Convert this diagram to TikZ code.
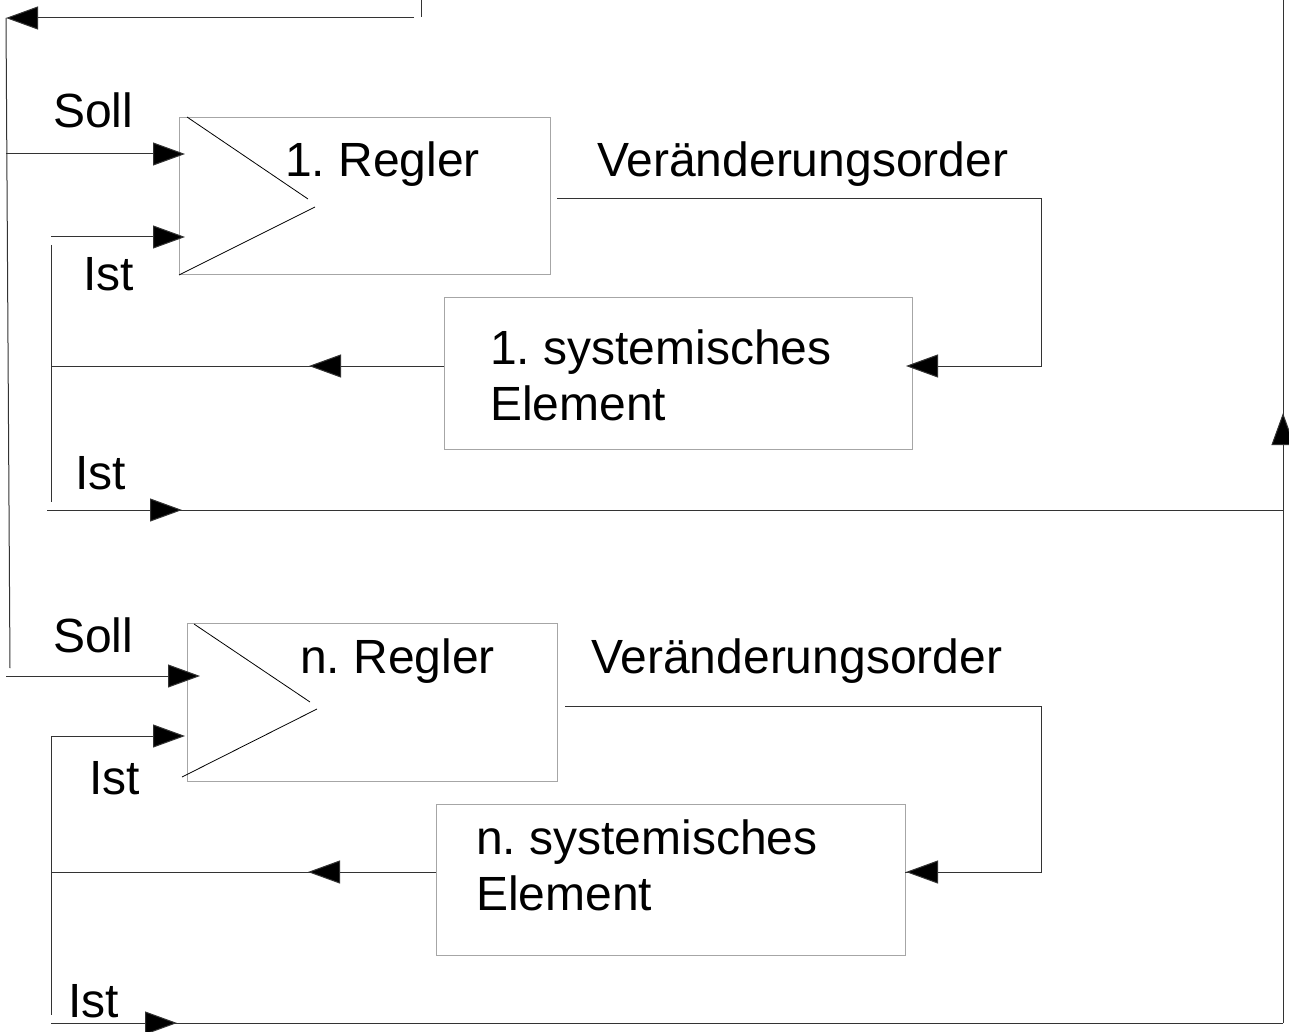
\documentclass[tikz,border=0pt]{standalone}
\usepackage{fontspec}
\setmainfont{Liberation Sans}
\usetikzlibrary{arrows.meta}
\frenchspacing
\begin{document}
\begin{tikzpicture}[x=1pt,y=-1pt,
  box/.style={draw=gray!70,line width=1pt,inner sep=0pt,anchor=north west},
  wire/.style={draw=black!80,line width=1pt},
  tri/.style={draw=black,line width=0.8pt},
  arr/.style={-{Triangle[length=32pt,width=23pt,fill=black]},draw=black!80,line width=1pt},
  lbl/.style={anchor=base west,inner sep=0pt,font=\fontsize{48}{56}\selectfont,align=left}]
\useasboundingbox (0,0) rectangle (1289,1032);
% boxes
\node[box,minimum width=371pt,minimum height=157pt] (r1) at (179,117) {};
\node[box,minimum width=468pt,minimum height=152pt] (s1) at (444,297) {};
\node[box,minimum width=370pt,minimum height=158pt] (r2) at (187,623) {};
\node[box,minimum width=469pt,minimum height=151pt] (s2) at (436,804) {};
% triangles
\draw[tri] (187,117) -- (308,199);
\draw[tri] (315,207) -- (179,275);
\draw[tri] (194,624) -- (310,702);
\draw[tri] (317,709) -- (182,777);
% labels
\node[lbl] (soll1) at (53,128) {Soll};
\node[lbl] (reg1) at (285,177) {1. Regler};
\node[lbl] (ver1) at (597,177) {Veränderungsorder};
\node[lbl] (ist1) at (83,290) {Ist};
\node[lbl] (sys1) at (490,420) {1. systemisches\\Element};
\node[lbl] (ist2) at (75,489) {Ist};
\node[lbl] (soll2) at (53,652) {Soll};
\node[lbl] (reg2) at (300,673) {n. Regler};
\node[lbl] (ver2) at (591,673) {Veränderungsorder};
\node[lbl] (ist3) at (89,794) {Ist};
\node[lbl] (sys2) at (476,910) {n. systemisches\\Element};
\node[lbl] (ist4) at (68,1017) {Ist};
% coordinates
\coordinate (topA) at (421,0);
\coordinate (topB) at (421,17);
\coordinate (topR) at (414,18);
\coordinate (topL) at (6,18);
\coordinate (leftBot) at (10,668);
\coordinate (soll1s) at (6,154);
\coordinate (soll1e) at (185,154);
\coordinate (ist1s) at (51,237);
\coordinate (ist1e) at (185,237);
\coordinate (fb1top) at (51,245);
\coordinate (fb1bot) at (51,502);
\coordinate (fb1mid) at (51,366);
\coordinate (o1a) at (557,199);
\coordinate (o1b) at (1041,199);
\coordinate (o1c) at (1041,366);
\coordinate (o1e) at (906,366);
\coordinate (istL1) at (47,510);
\coordinate (istR1) at (1283,510);
\coordinate (rtop) at (1283,0);
\coordinate (rbot) at (1283,1023);
\coordinate (soll2s) at (6,676);
\coordinate (soll2e) at (200,676);
\coordinate (ist3s) at (51,736);
\coordinate (ist3e) at (185,736);
\coordinate (fb2bot) at (51,1015);
\coordinate (fb2mid) at (51,872);
\coordinate (o2a) at (565,706);
\coordinate (o2b) at (1041,706);
\coordinate (o2c) at (1041,872);
\coordinate (o2e) at (906,872);
\coordinate (istL2) at (51,1023);
% top return
\draw[wire] (topA) -- (topB);
\draw[arr] (topR) -- (topL);
\draw[wire] (topL) -- (leftBot);
% stage 1
\draw[arr] (soll1s) -- (soll1e);
\draw[arr] (ist1s) -- (ist1e);
\draw[wire] (fb1top) -- (fb1bot);
\draw[wire] (s1.west |- fb1mid) -- (fb1mid);
\draw[arr] (342,366) -- (309,366);
\draw[wire] (o1a) -- (o1b) -- (o1c) -- (912,366);
\draw[arr] (939,366) -- (o1e);
\draw[wire] (istL1) -- (istR1);
\draw[arr] (150,510) -- (182,510);
% right line
\draw[wire] (rbot) -- (rtop);
\draw[arr] (1283,446) -- (1283,413);
% stage n
\draw[arr] (soll2s) -- (soll2e);
\draw[arr] (ist3s) -- (ist3e);
\draw[wire] (ist3s) -- (fb2bot);
\draw[wire] (s2.west |- fb2mid) -- (fb2mid);
\draw[arr] (342,872) -- (308,872);
\draw[wire] (o2a) -- (o2b) -- (o2c) -- (905,872);
\draw[arr] (939,872) -- (o2e);
\draw[wire] (istL2) -- (rbot);
\draw[arr] (145,1023) -- (177,1023);
\end{tikzpicture}
\end{document}
